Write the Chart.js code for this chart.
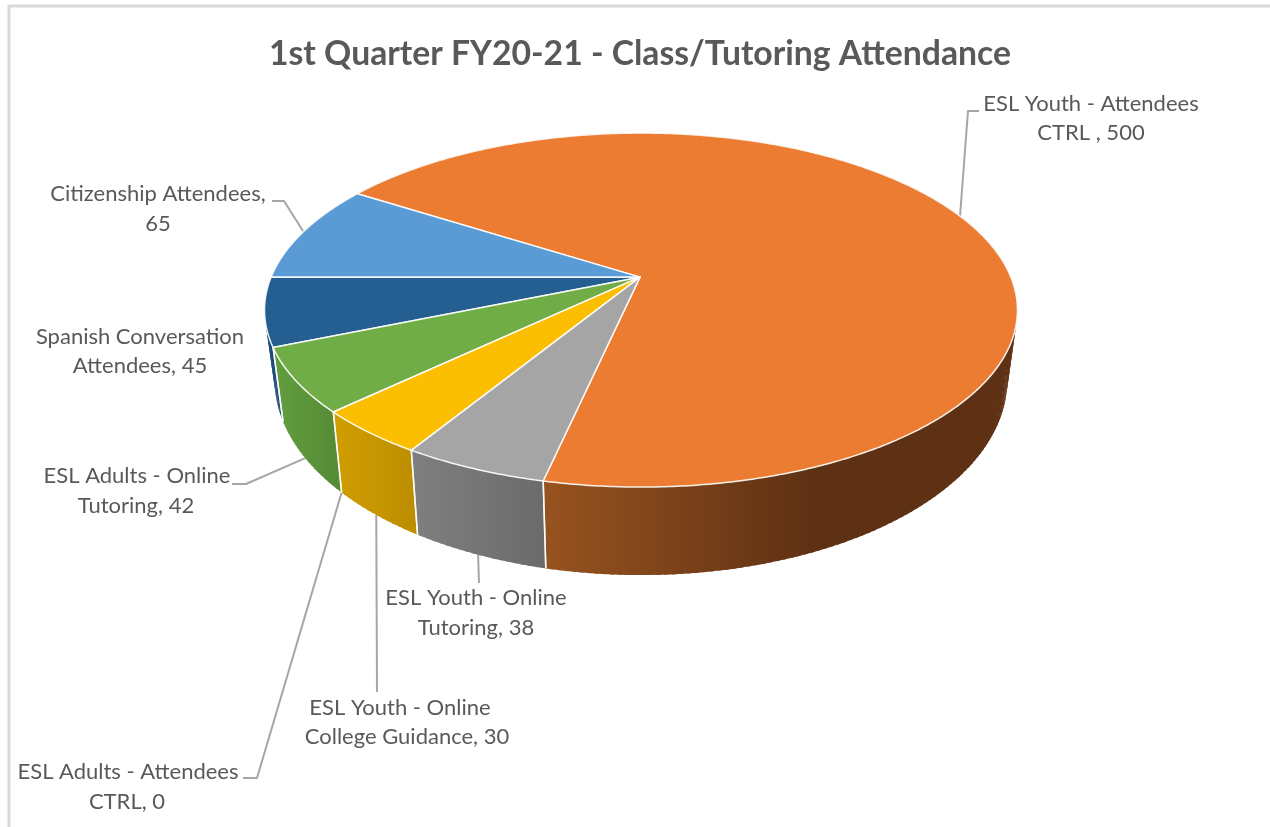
<!DOCTYPE html>
<html>
<head>
<meta charset="utf-8">
<title>1st Quarter FY20-21 - Class/Tutoring Attendance</title>
<script src="https://cdn.jsdelivr.net/npm/chart.js@4/dist/chart.umd.min.js"></script>
<style>
  html, body { margin: 0; padding: 0; background: #fff; overflow: hidden; }
  canvas { display: block; }
</style>
</head>
<body>
<canvas id="pie" width="1270" height="827"></canvas>
<script>
const chartTitle = '1st Quarter FY20-21 - Class/Tutoring Attendance';

const categories = [
  'Citizenship Attendees',
  'ESL Youth - Attendees CTRL ',
  'ESL Youth - Online Tutoring',
  'ESL Youth - Online College Guidance',
  'ESL Adults - Attendees CTRL',
  'ESL Adults - Online Tutoring',
  'Spanish Conversation Attendees'
];
const attendance = [65, 500, 38, 30, 0, 42, 45];

const sliceColors = ['#5B9BD5', '#EB7C31', '#A5A5A5', '#FCBE00', '#4472C4', '#70AD47', '#255E91'];
// wall shading, left to right, with the point where the shade stops changing
const wallShades = [
  ['#3f6d96', '#3f6d96', 1],
  ['#97531f', '#5f3114', 0.56],
  ['#7f7f7f', '#6b6b6b', 1],
  ['#d19e00', '#bd8e00', 1],
  ['#2f5088', '#2f5088', 1],
  ['#619e3e', '#578c37', 1],
  ['#1c4a78', '#1c4a78', 1]
];

// label placement: words on first line, centre x of each line, baseline-middle y of each line
const labelLayout = [
  { words: 2, cx: [158, 158], y: [194, 224] },
  { words: 4, cx: [1091, 1091], y: [104, 133] },
  { words: 4, cx: [476, 476], y: [598, 628] },
  { words: 4, cx: [400, 407], y: [708, 737] },
  { words: 4, cx: [128, 127], y: [772, 802] },
  { words: 4, cx: [137, 136], y: [476, 506] },
  { words: 2, cx: [140, 140], y: [337, 366] }
];
// bends of each leader line after it leaves the pie (null = no leader)
const leaderBends = [
  [[284, 201], [272, 201]],
  [[968, 111], [979, 111]],
  [[479, 583]],
  [[377, 692]],
  [[257, 778], [243, 778]],
  [[246, 484], [232, 484]],
  null
];

// perspective of the two pie faces, relative to the library's arc radius
const FACE_TOP = { lift: 176.5, sx: 0.997, sy: 0.4606, dx: 1 };
const FACE_BOTTOM = { lift: 109.5, sx: 0.97, sy: 0.5067, dx: 1 };
const PERSPECTIVE = 0.186;
const TEXT_COLOR = '#595959';
const LABEL_FONT = '22px Lato';

function project(arc, face, angle) {
  const u = Math.cos(angle);
  const v = Math.sin(angle);
  const w = 1 - PERSPECTIVE * v;
  return {
    x: arc.x + face.dx + arc.outerRadius * face.sx * u / w,
    y: arc.y - face.lift + arc.outerRadius * face.sy * v / w
  };
}

function wallGradient(ctx, arc, shade) {
  const xs = [];
  for (let a = arc.startAngle; a <= arc.endAngle; a += 0.01) {
    if (Math.sin(a) >= 0) xs.push(project(arc, FACE_TOP, a).x);
  }
  const left = xs.length ? Math.min(...xs) : arc.x;
  const right = xs.length ? Math.max(...xs) + 1 : arc.x + 1;
  const g = ctx.createLinearGradient(left, 0, right, 0);
  g.addColorStop(0, shade[0]);
  g.addColorStop(shade[2], shade[1]);
  g.addColorStop(1, shade[1]);
  return g;
}

function drawWall(ctx, arc, shade) {
  const step = Math.PI / 180;
  ctx.fillStyle = wallGradient(ctx, arc, shade);
  // quads overlap a little so no seams show between them
  for (let a = arc.startAngle; a < arc.endAngle; a += step) {
    const b = Math.min(a + step * 1.5, arc.endAngle);
    const p1 = project(arc, FACE_TOP, a);
    const p2 = project(arc, FACE_TOP, b);
    const p3 = project(arc, FACE_BOTTOM, b);
    const p4 = project(arc, FACE_BOTTOM, a);
    ctx.beginPath();
    ctx.moveTo(p1.x, p1.y);
    ctx.lineTo(p2.x, p2.y);
    ctx.lineTo(p3.x, p3.y);
    ctx.lineTo(p4.x, p4.y);
    ctx.closePath();
    ctx.fill();
  }
}

function drawWallEdges(ctx, arc) {
  ctx.strokeStyle = 'rgba(255,255,255,0.85)';
  ctx.lineWidth = 1.5;
  [arc.startAngle, arc.endAngle].forEach(a => {
    const top = project(arc, FACE_TOP, a);
    const bottom = project(arc, FACE_BOTTOM, a);
    ctx.beginPath();
    ctx.moveTo(top.x, top.y);
    ctx.lineTo(bottom.x, bottom.y);
    ctx.stroke();
  });
}

function drawFace(ctx, arc, color) {
  const step = Math.PI / 360;
  ctx.beginPath();
  ctx.moveTo(arc.x, arc.y - FACE_TOP.lift);
  for (let a = arc.startAngle; a < arc.endAngle; a += step) {
    const p = project(arc, FACE_TOP, a);
    ctx.lineTo(p.x, p.y);
  }
  const end = project(arc, FACE_TOP, arc.endAngle);
  ctx.lineTo(end.x, end.y);
  ctx.closePath();
  ctx.fillStyle = color;
  ctx.fill();
  ctx.strokeStyle = 'rgba(255,255,255,0.9)';
  ctx.lineWidth = 1.5;
  ctx.lineJoin = 'round';
  ctx.stroke();
}

function drawLeader(ctx, arc, bends) {
  const mid = (arc.startAngle + arc.endAngle) / 2;
  const face = Math.sin(mid) > 0 ? FACE_BOTTOM : FACE_TOP;
  const from = project(arc, face, mid);
  ctx.strokeStyle = '#A6A6A6';
  ctx.lineWidth = 2;
  ctx.lineJoin = 'round';
  ctx.beginPath();
  ctx.moveTo(from.x, from.y);
  bends.forEach(p => ctx.lineTo(p[0], p[1]));
  ctx.stroke();
}

function drawLabel(ctx, i) {
  const layout = labelLayout[i];
  const words = `${categories[i]}, ${attendance[i]}`.split(' ');
  const lines = [words.slice(0, layout.words).join(' '), words.slice(layout.words).join(' ')];
  ctx.font = LABEL_FONT;
  ctx.fillStyle = TEXT_COLOR;
  ctx.textAlign = 'center';
  ctx.textBaseline = 'middle';
  lines.forEach((line, n) => ctx.fillText(line, layout.cx[n], layout.y[n]));
}

// Chart.js has no 3D pie, so the arcs it lays out are painted here in perspective
const tiltedPie = {
  id: 'tiltedPie',
  beforeDraw(chart) {
    const ctx = chart.ctx;
    ctx.save();
    ctx.fillStyle = '#fff';
    ctx.fillRect(0, 0, chart.width, chart.height);
    ctx.strokeStyle = '#D9D9D9';
    ctx.lineWidth = 3;
    ctx.strokeRect(9, 6, chart.width + 20, chart.height + 20);
    ctx.restore();
  },
  beforeDatasetsDraw(chart) {
    const ctx = chart.ctx;
    const arcs = chart.getDatasetMeta(0).data;
    const visible = arcs.map((arc, i) => ({ arc, i }))
      .filter(o => o.arc.endAngle > o.arc.startAngle)
      .sort((p, q) => Math.sin((p.arc.startAngle + p.arc.endAngle) / 2) - Math.sin((q.arc.startAngle + q.arc.endAngle) / 2));

    ctx.save();
    arcs.forEach((arc, i) => {
      if (leaderBends[i]) drawLeader(ctx, arc, leaderBends[i]);
    });
    visible.forEach(o => drawWall(ctx, o.arc, wallShades[o.i]));
    visible.forEach(o => drawWallEdges(ctx, o.arc));
    visible.forEach(o => drawFace(ctx, o.arc, sliceColors[o.i]));
    arcs.forEach((arc, i) => drawLabel(ctx, i));
    ctx.restore();
    return false;
  }
};

new Chart(document.getElementById('pie').getContext('2d'), {
  type: 'pie',
  data: {
    labels: categories,
    datasets: [{
      data: attendance,
      backgroundColor: sliceColors,
      borderWidth: 0
    }]
  },
  options: {
    responsive: false,
    animation: false,
    rotation: 270,
    layout: { padding: { left: 269, right: 259 } },
    plugins: {
      legend: { display: false },
      tooltip: { enabled: false },
      title: {
        display: true,
        text: chartTitle,
        color: TEXT_COLOR,
        font: { family: 'Lato', size: 34.4, weight: 'bold', lineHeight: 1.2 },
        padding: { top: 33, bottom: 6 }
      }
    }
  },
  plugins: [tiltedPie]
});
</script>
</body>
</html>
